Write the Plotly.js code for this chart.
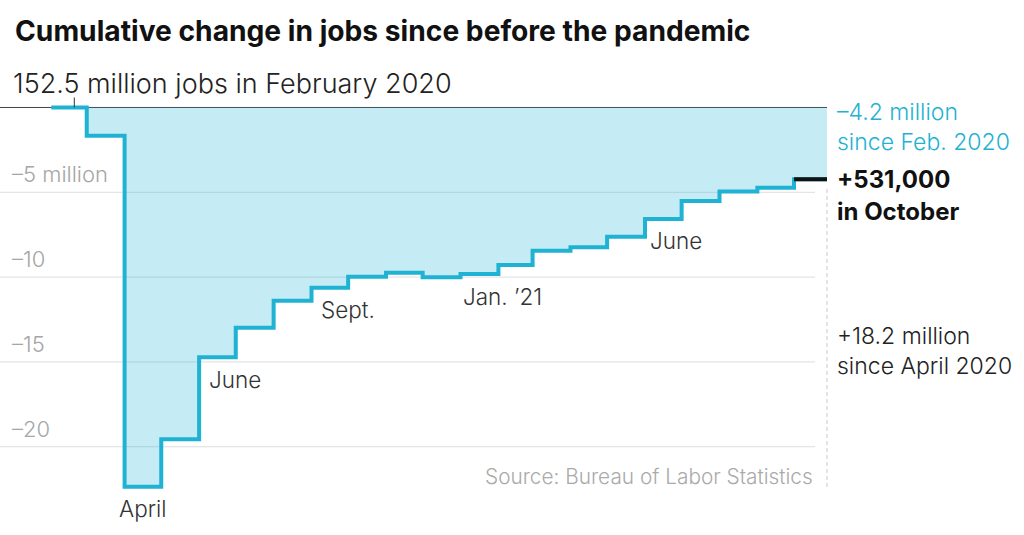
<!DOCTYPE html>
<html><head><meta charset="utf-8">
<script src="https://cdn.plot.ly/plotly-3.0.1.min.js"></script>
<style>html,body{margin:0;padding:0;background:#fff;}#chart{width:1024px;height:535px;}</style>
</head><body><div id="chart"></div>
<script>
// ---- data ----
const months = ['2020-02-01','2020-03-01','2020-04-01','2020-05-01','2020-06-01','2020-07-01','2020-08-01',
  '2020-09-01','2020-10-01','2020-11-01','2020-12-01','2021-01-01','2021-02-01','2021-03-01','2021-04-01',
  '2021-05-01','2021-06-01','2021-07-01','2021-08-01','2021-09-01','2021-10-01'];
const cumulativeChange = [0,-1.66,-22.36,-19.56,-14.73,-12.98,-11.39,-10.63,-9.98,-9.74,-10.01,-9.82,
  -9.29,-8.44,-8.24,-7.62,-6.57,-5.51,-4.96,-4.73,-4.23];
const tickValues = [-5,-10,-15,-20];
const tickLabels = ['–5 million','–10','–15','–20'];
const monthLabelMonths = ['2020-04-01','2020-06-01','2020-09-01','2021-01-01','2021-06-01'];
const monthLabelTexts = ['April','June','Sept.','Jan. ’21','June'];
const titleText = 'Cumulative change in jobs since before the pandemic';
const baseText = '152.5 million jobs in February 2020';
const sinceFebLines = ['–4.2 million','since Feb. 2020'];
const octoberLines = ['+531,000','in October'];
const sinceAprilLines = ['+18.2 million','since April 2020'];
const sourceText = 'Source: Bureau of Labor Statistics';

// ---- layout helpers ----
const W=1024,H=535,L=0,R=197,T=90,B=35;
const plotW=W-L-R, plotH=H-T-B;
const px = x => (x-L)/plotW;
const py = y => (H-B-y)/plotH;
const teal='#1fb2d3';
const FONT='Inter, Roboto, "Liberation Sans", Arial, sans-serif';

function nextMonth(d){const [y,m]=d.split('-').map(Number);const ny=m===12?y+1:y;const nm=m===12?1:m+1;return ny+'-'+String(nm).padStart(2,'0')+'-01';}
const lastIdx = months.length-1;
const endDate = nextMonth(months[lastIdx]);

const traces = [
  {x: months.concat([endDate]), y: cumulativeChange.concat([cumulativeChange[lastIdx]]),
   type:'scatter', mode:'lines', line:{shape:'hv', color:teal, width:4},
   fill:'tozeroy', fillcolor:'rgba(31,178,211,0.26)', hoverinfo:'skip'},
  {x:[months[lastIdx], endDate], y:[cumulativeChange[lastIdx], cumulativeChange[lastIdx]],
   type:'scatter', mode:'lines', line:{color:'#111', width:4}, hoverinfo:'skip'}
];

const shapes = [];
tickValues.forEach(v=>shapes.push({type:'line', xref:'paper', x0:0, x1:px(815), yref:'y', y0:v, y1:v,
  line:{color:'#dddddd', width:1}, layer:'below'}));
shapes.push({type:'line', xref:'paper', x0:0, x1:1, yref:'y', y0:0, y1:0, line:{color:'#444', width:1}, layer:'below'});
shapes.push({type:'line', xref:'x', xsizemode:'pixel', xanchor:months[0], x0:23, x1:23,
  yref:'y', ysizemode:'pixel', yanchor:0, y0:0, y1:10, line:{color:'#333', width:1}});
shapes.push({type:'line', xref:'paper', x0:1, x1:1, yref:'paper', y0:py(487), y1:py(188),
  line:{color:'#c8c8c8', width:1, dash:'4px,3px'}});

const annotations = [];
tickValues.forEach((v,i)=>annotations.push({xref:'paper', x:px(10), xanchor:'left', yref:'y', y:v, yanchor:'bottom', yshift:3,
  text:tickLabels[i], showarrow:false, font:{family:FONT, size:22, color:'#a6a6a6', weight:300}}));

const labelAnchor=['center','left','left','left','left'];
const labelXShift=[18,8,7,0,3];
monthLabelMonths.forEach((m,i)=>{
  const idx=months.indexOf(m);
  annotations.push({xref:'x', x:m, xanchor:labelAnchor[i], xshift:labelXShift[i], yref:'y', y:cumulativeChange[idx],
    yanchor:'middle', yshift:-22, text:monthLabelTexts[i], showarrow:false, font:{family:FONT, size:22.5, color:'#333', weight:300}});
});

annotations.push({xref:'paper', x:px(11), xanchor:'left', yref:'paper', y:py(83), yanchor:'middle',
  text:baseText, showarrow:false, font:{family:FONT, size:27, color:'#222', weight:300}});

function addLines(lines, ys, color, bold, size){
  lines.forEach((t,i)=>annotations.push({xref:'paper', x:px(835), xanchor:'left', yref:'paper', y:py(ys[i]), yanchor:'middle',
    text:t, showarrow:false, font:{family:FONT, size:size, color:color, weight:bold?700:300}}));
}
addLines(sinceFebLines,[112,142],teal,false,23);
addLines(octoberLines,[179,211],'#111',true,24);
addLines(sinceAprilLines,[336,366],'#222',false,23);

annotations.push({xref:'paper', x:px(815), xanchor:'right', yref:'paper', y:py(476), yanchor:'middle',
  text:sourceText, showarrow:false, font:{family:FONT, size:20.8, color:'#aaaaaa', weight:300}});

const layout = {
  width:W, height:H, margin:{l:L,r:R,t:T,b:B}, paper_bgcolor:'#fff', plot_bgcolor:'#fff', showlegend:false,
  title:{text:titleText, xref:'container', x:15/W, xanchor:'left', yref:'container', y:1-31/H, yanchor:'middle',
    font:{family:FONT, size:28.2, color:'#111', weight:700}},
  xaxis:{type:'date', range:['2019-12-21','2021-10-28'], showgrid:false, zeroline:false, showline:false, showticklabels:false, ticks:''},
  yaxis:{range:[-23.14,1.03], showgrid:false, zeroline:false, showline:false, showticklabels:false, ticks:''},
  shapes:shapes, annotations:annotations
};
Plotly.newPlot('chart', traces, layout, {displayModeBar:false, staticPlot:true});
</script></body></html>
